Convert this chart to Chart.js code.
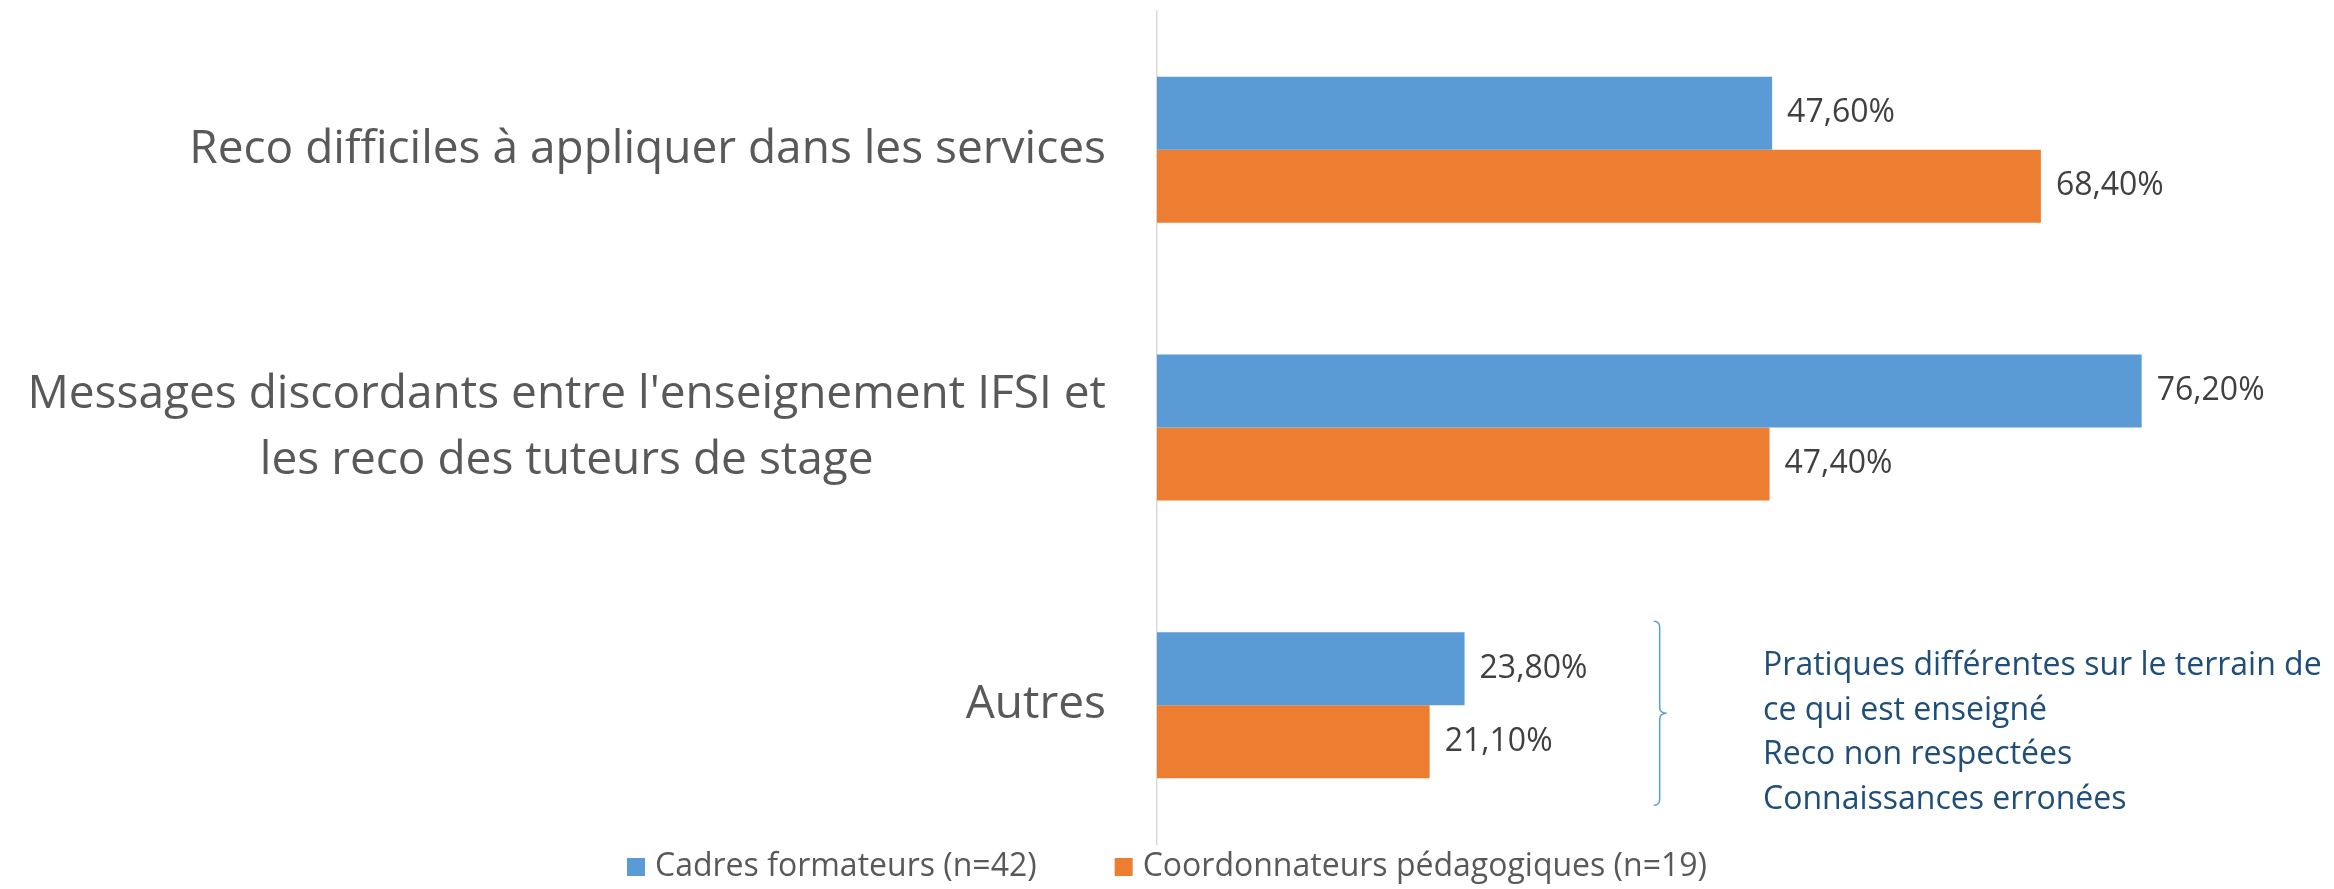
<!DOCTYPE html>
<html>
<head>
<meta charset="utf-8">
<script src="https://cdn.jsdelivr.net/npm/chart.js@4"></script>
<style>
  html, body { margin: 0; padding: 0; background: #fff; }
  #wrap { width: 2334px; height: 889px; position: relative; }
</style>
</head>
<body>
<div id="wrap"><canvas id="myChart"></canvas></div>
<script>
(function () {
  'use strict'

  // Data
  var categories = [
    'Reco difficiles à appliquer dans les services',
    ["Messages discordants entre l'enseignement IFSI et", 'les reco des tuteurs de stage'],
    'Autres'
  ]
  var seriesNames = ['Cadres formateurs (n=42)', 'Coordonnateurs pédagogiques (n=19)']
  var cadres = [47.6, 76.2, 23.8]
  var coordonnateurs = [68.4, 47.4, 21.1]
  var autresDetails = [
    'Pratiques différentes sur le terrain de',
    'ce qui est enseigné',
    'Reco non respectées',
    'Connaissances erronées'
  ]

  var colors = ['#5B9BD5', '#ED7D31']
  var font = "'Open Sans', 'Noto Sans', sans-serif"

  var fmt = function (v) { return v.toFixed(2).replace('.', ',') + '%' }

  // category labels, centered lines, block right aligned next to the axis
  var catLabels = {
    id: 'catLabels',
    afterDraw: function (chart) {
      var c = chart.ctx, y = chart.scales.y, area = chart.chartArea
      c.save()
      c.font = '46px ' + font
      c.fillStyle = '#595959'
      c.textAlign = 'center'
      c.textBaseline = 'middle'
      chart.data.labels.forEach(function (lab, i) {
        var lines = Array.isArray(lab) ? lab : [lab]
        var widest = 0
        lines.forEach(function (l) { widest = Math.max(widest, c.measureText(l).width) })
        var cx = area.left - 51 - widest / 2
        var cy = y.getPixelForValue(i)
        var lh = 66
        lines.forEach(function (l, k) {
          c.fillText(l, cx, cy + (k - (lines.length - 1) / 2) * lh)
        })
      })
      c.restore()
    }
  }

  // value labels at the end of each bar
  var valueLabels = {
    id: 'valueLabels',
    afterDatasetsDraw: function (chart) {
      var c = chart.ctx
      c.save()
      c.font = '32px ' + font
      c.fillStyle = '#404040'
      c.textAlign = 'left'
      c.textBaseline = 'middle'
      chart.data.datasets.forEach(function (ds, di) {
        chart.getDatasetMeta(di).data.forEach(function (bar, i) {
          c.fillText(fmt(ds.data[i]), bar.x + 15, bar.y)
        })
      })
      c.restore()
    }
  }

  // brace + note next to "Autres"
  var autresNote = {
    id: 'autresNote',
    afterDraw: function (chart) {
      var c = chart.ctx, y = chart.scales.y, x = chart.scales.x
      var cy = y.getPixelForValue(2)
      var bx = x.getPixelForValue(38.9)
      var top = cy - 84, bot = cy + 100, mid = cy + 8
      c.save()
      c.strokeStyle = '#5B9BD5'
      c.lineWidth = 1.5
      c.beginPath()
      c.moveTo(bx - 6, top)
      c.quadraticCurveTo(bx, top, bx, top + 6)
      c.lineTo(bx, mid - 6)
      c.quadraticCurveTo(bx, mid, bx + 7, mid)
      c.quadraticCurveTo(bx, mid, bx, mid + 6)
      c.lineTo(bx, bot - 6)
      c.quadraticCurveTo(bx, bot, bx - 6, bot)
      c.stroke()
      c.font = '32px ' + font
      c.fillStyle = '#1F4E79'
      c.textAlign = 'left'
      c.textBaseline = 'alphabetic'
      var tx = x.getPixelForValue(46.9)
      autresDetails.forEach(function (t, k) {
        c.fillText(t, tx, cy - 30 + k * 44.5)
      })
      c.restore()
    }
  }

  // legend at the bottom
  var bottomLegend = {
    id: 'bottomLegend',
    afterDraw: function (chart) {
      var c = chart.ctx
      c.save()
      c.font = '32px ' + font
      c.textBaseline = 'middle'
      c.textAlign = 'left'
      var box = 18, gapText = 10, gapItem = 78
      var total = 0
      chart.data.datasets.forEach(function (ds, i) {
        total += box + gapText + c.measureText(ds.label).width + (i ? gapItem : 0)
      })
      var cx = (chart.width - total) / 2
      var cy = 867
      chart.data.datasets.forEach(function (ds, i) {
        if (i) cx += gapItem
        c.fillStyle = ds.backgroundColor
        c.fillRect(cx, cy - box / 2, box, box)
        cx += box + gapText
        c.fillStyle = '#595959'
        c.fillText(ds.label, cx, cy)
        cx += c.measureText(ds.label).width
      })
      c.restore()
    }
  }

  var ctx = document.getElementById('myChart')
  var myChart = new Chart(ctx, {
    type: 'bar',
    data: {
      labels: categories,
      datasets: [{
        label: seriesNames[0],
        data: cadres,
        backgroundColor: colors[0],
        barPercentage: 1,
        categoryPercentage: 0.526
      }, {
        label: seriesNames[1],
        data: coordonnateurs,
        backgroundColor: colors[1],
        barPercentage: 1,
        categoryPercentage: 0.526
      }]
    },
    options: {
      indexAxis: 'y',
      responsive: true,
      maintainAspectRatio: false,
      animation: false,
      layout: { padding: { top: 11, bottom: 45, right: 14, left: 0 } },
      plugins: {
        legend: { display: false },
        tooltip: { enabled: false }
      },
      scales: {
        x: { min: 0, max: 90, display: false },
        y: {
          grid: { display: false, drawTicks: false },
          border: { display: true, color: '#D9D9D9', width: 1.5 },
          ticks: { display: false },
          afterFit: function (s) { s.width = 1157 }
        }
      }
    },
    plugins: [catLabels, valueLabels, autresNote, bottomLegend]
  })
})()
</script>
</body>
</html>
